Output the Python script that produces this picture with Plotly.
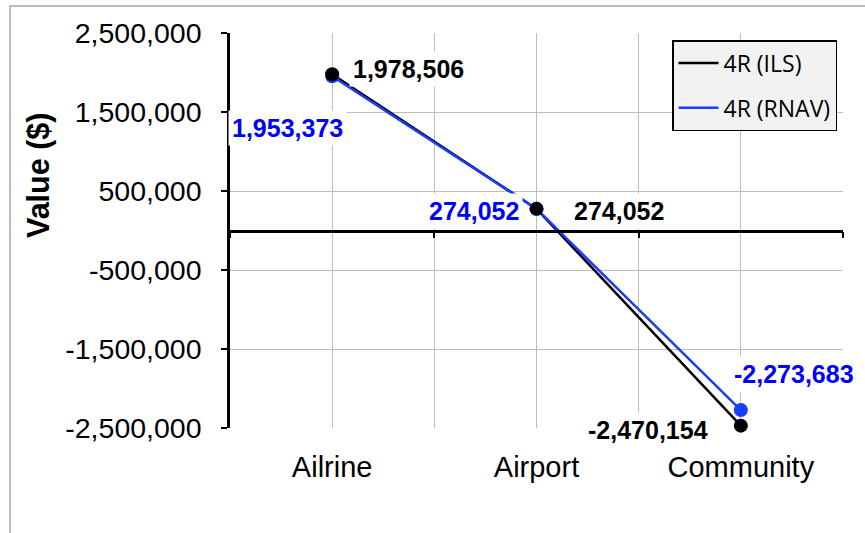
import plotly.graph_objects as go

# ---- data ----
categories = ["Ailrine", "Airport", "Community"]
ils_values = [1978506, 274052, -2470154]
rnav_values = [1953373, 274052, -2273683]
series_names = ["4R (ILS)", "4R (RNAV)"]
y_tick_values = [-2500000, -1500000, -500000, 500000, 1500000, 2500000]
y_tick_labels = ["-2,500,000", "-1,500,000", "-500,000", "500,000", "1,500,000", "2,500,000"]
y_title = "Value ($)"

# ---- styling ----
BLACK = "#000000"
BLUE_LINE = "#1a3cff"
BLUE_TEXT = "#0000ff"
GRID = "#bdbdbd"
ARIAL = "Liberation Sans, Arial, sans-serif"
W, H = 865, 533
M_L, M_R, M_T, M_B = 230, 22, 33, 105

x_pos = list(range(len(categories)))
x_range = [-0.5, len(categories) - 0.5]
x_boundaries = [i - 0.5 for i in range(len(categories) + 1)]
y_range = [y_tick_values[0], y_tick_values[-1]]
zero_frac = (0 - y_range[0]) / (y_range[1] - y_range[0])

plot_w = W - M_L - M_R
plot_h = H - M_T - M_B


def px_to_paper_x(px):
    return (px - M_L) / plot_w


def px_to_paper_y(py):
    return (H - M_B - py) / plot_h


fig = go.Figure()

# connecting lines
fig.add_trace(go.Scatter(x=x_pos, y=ils_values, mode="lines", name=series_names[0],
                         legendgroup="ils", line=dict(color=BLACK, width=2.5)))
fig.add_trace(go.Scatter(x=x_pos, y=rnav_values, mode="lines", name=series_names[1],
                         legendgroup="rnav", line=dict(color=BLUE_LINE, width=2.5)))
# point markers, drawn over the lines
fig.add_trace(go.Scatter(x=x_pos, y=rnav_values, mode="markers", showlegend=False,
                         xaxis="x2", cliponaxis=False,
                         marker=dict(color=BLUE_LINE, size=14)))
fig.add_trace(go.Scatter(x=x_pos, y=ils_values, mode="markers", showlegend=False,
                         xaxis="x2", cliponaxis=False,
                         marker=dict(color=BLACK, size=14)))

# value labels: (series, index, colour, xshift, yshift)
label_specs = [
    (ils_values, 0, BLACK, 76, 5),
    (rnav_values, 0, BLUE_TEXT, -45, -52),
    (rnav_values, 1, BLUE_TEXT, -63, -2),
    (ils_values, 1, BLACK, 82, -2),
    (rnav_values, 2, BLUE_TEXT, 53, 36),
    (ils_values, 2, BLACK, -93, -4),
]
for values, i, color, dx, dy in label_specs:
    fig.add_annotation(
        x=x_pos[i], y=values[i], xref="x", yref="y",
        text=f"{values[i]:,}", showarrow=False,
        xshift=dx, yshift=dy,
        font=dict(family=ARIAL, size=25, color=color, weight="bold"),
        bgcolor="white", borderpad=3,
    )

# vertical axis title
fig.add_annotation(
    x=px_to_paper_x(38), y=px_to_paper_y(176), xref="paper", yref="paper",
    text=y_title, textangle=-90, showarrow=False,
    xanchor="center", yanchor="middle",
    font=dict(family=ARIAL, size=30.5, color=BLACK, weight="bold"),
)

# outer chart frame
fig.add_shape(type="rect", xref="paper", yref="paper", layer="below",
              x0=px_to_paper_x(10), x1=px_to_paper_x(W + 20),
              y0=px_to_paper_y(H + 20), y1=px_to_paper_y(6),
              line=dict(color="#a6a6a6", width=1.5), fillcolor="rgba(0,0,0,0)")

fig.update_layout(
    width=W, height=H,
    margin=dict(l=M_L, r=M_R, t=M_T, b=M_B),
    paper_bgcolor="white", plot_bgcolor="white",
    showlegend=True,
    legend=dict(
        x=px_to_paper_x(837), xanchor="right",
        y=px_to_paper_y(40), yanchor="top",
        bgcolor="#f2f2f2", bordercolor=BLACK, borderwidth=1.5,
        font=dict(family="Open Sans, sans-serif", size=23, color=BLACK),
        tracegroupgap=12, itemwidth=40,
    ),
    xaxis=dict(
        range=x_range, tickvals=x_pos, ticktext=categories,
        showgrid=True, gridcolor=GRID, gridwidth=1.3,
        minor=dict(tickvals=x_boundaries, showgrid=True, gridcolor=GRID, gridwidth=1.3),
        ticks="outside", ticklen=13, tickcolor="rgba(0,0,0,0)",
        showline=False, zeroline=False,
        tickfont=dict(family=ARIAL, size=29, color=BLACK),
    ),
    xaxis2=dict(
        overlaying="x", anchor="free", position=zero_frac, range=x_range,
        showline=True, linecolor=BLACK, linewidth=2.5,
        ticks="outside", tickvals=x_boundaries, ticklen=6, tickwidth=2, tickcolor=BLACK,
        showticklabels=False, showgrid=False, zeroline=False,
    ),
    yaxis=dict(
        range=y_range, tickvals=y_tick_values, ticktext=y_tick_labels,
        showgrid=True, gridcolor=GRID, gridwidth=1.3, zeroline=False,
        showline=True, linecolor=BLACK, linewidth=2.5,
        ticks="outside", ticklen=6, tickwidth=2, tickcolor=BLACK,
        ticklabelstandoff=14,
        tickfont=dict(family=ARIAL, size=28.5, color=BLACK),
    ),
)

fig.write_html("out.html")
